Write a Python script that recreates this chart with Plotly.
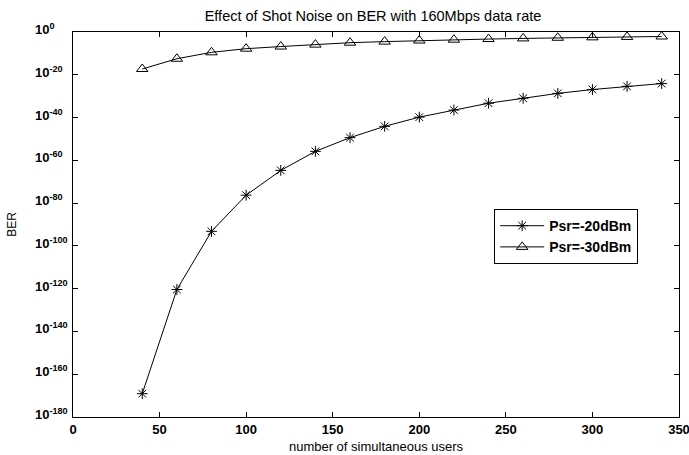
import plotly.graph_objects as go

users = [40, 60, 80, 100, 120, 140, 160, 180, 200, 220, 240, 260, 280, 300, 320, 340]
# BER exponents (log10)
ber20_exp = [-169.1, -120.4, -93.2, -76.3, -64.7, -55.8, -49.4, -44.1, -39.8, -36.5,
             -33.3, -31.0, -28.7, -26.9, -25.4, -24.1]
ber30_exp = [-17.3, -12.5, -9.5, -7.8, -6.8, -5.9, -5.0, -4.5, -4.0, -3.6,
             -3.3, -3.0, -2.7, -2.5, -2.3, -2.1]
ber20 = [10 ** e for e in ber20_exp]
ber30 = [10 ** e for e in ber30_exp]

x_ticks = [0, 50, 100, 150, 200, 250, 300, 350]
y_tick_exps = [0, -20, -40, -60, -80, -100, -120, -140, -160, -180]

FONT = "Liberation Sans, Arial"

fig = go.Figure()
fig.add_trace(go.Scatter(
    x=users, y=ber20, mode="lines+markers", name="<b>Psr=-20dBm</b>",
    line=dict(color="black", width=1),
    marker=dict(symbol="asterisk-open", size=9, color="black", line=dict(color="black", width=1)),
))
fig.add_trace(go.Scatter(
    x=users, y=ber30, mode="lines+markers", name="<b>Psr=-30dBm</b>",
    line=dict(color="black", width=1),
    marker=dict(symbol="triangle-up-open", size=10, color="black", line=dict(color="black", width=1)),
))

# y tick labels, left-aligned like the original (placed on the log axis)
for e in y_tick_exps:
    fig.add_annotation(
        xref="paper", yref="y", x=(33 - 73) / 606, y=e, xanchor="left", yanchor="middle",
        text=f"<b>10<sup>{e}</sup></b>", showarrow=False, yshift=3,
        font=dict(size=13, family=FONT, color="black"),
    )

fig.update_layout(
    width=689, height=455,
    margin=dict(l=73, r=10, t=32, b=38),
    paper_bgcolor="white", plot_bgcolor="white",
    font=dict(family=FONT, size=11, color="black"),
    title=dict(text="Effect of Shot Noise on BER with 160Mbps data rate",
               x=(203 + 543) / 2 / 689, xanchor="center", y=1 - 16 / 455, yanchor="middle",
               font=dict(size=14.5)),
    legend=dict(x=0.695, y=0.54, xanchor="left", yanchor="top",
                bordercolor="black", borderwidth=1, bgcolor="white",
                font=dict(size=14, family=FONT),
                tracegroupgap=0, itemwidth=44),
    showlegend=True,
)
fig.update_xaxes(
    range=[0, 350], tickvals=x_ticks, ticktext=[f"<b>{v}</b>" for v in x_ticks],
    showline=True, linecolor="black", linewidth=1, mirror="ticks",
    ticks="inside", ticklen=5, tickcolor="black", showgrid=False, zeroline=False,
    title=dict(text="number of simultaneous users", font=dict(size=13), standoff=6),
    tickfont=dict(size=13), automargin=False, ticklabeloverflow="allow",
)
fig.update_yaxes(
    type="log", range=[-180, 0],
    tickvals=[10.0 ** e for e in y_tick_exps], showticklabels=False,
    showline=True, linecolor="black", linewidth=1, mirror="ticks",
    ticks="inside", ticklen=5, tickcolor="black", showgrid=False, zeroline=False,
    title=dict(text="BER", font=dict(size=12), standoff=52),
    automargin=False,
)

fig.write_html("out.html")
